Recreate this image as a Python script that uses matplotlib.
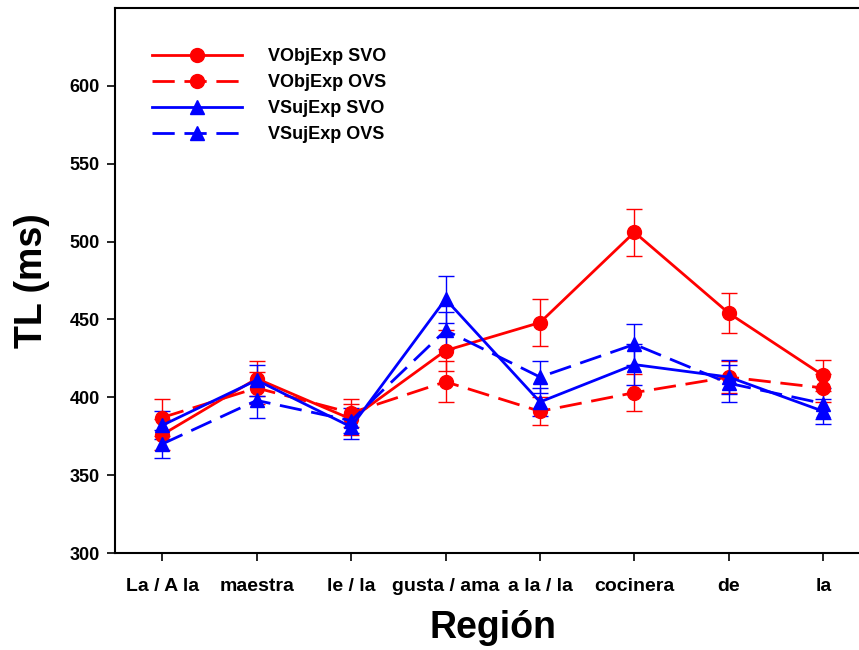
import matplotlib
matplotlib.use("Agg")
import matplotlib.pyplot as plt
import numpy as np

plt.rcParams['font.family'] = ['Liberation Sans', 'DejaVu Sans']
plt.rcParams['font.weight'] = 'bold'
plt.rcParams['lines.scale_dashes'] = False

regions = ['La / A la', 'maestra', 'le / la', 'gusta / ama', 'a la / la',
           'cocinera', 'de', 'la']

vobj_svo = [376, 412, 386, 430, 448, 506, 454, 414]
vobj_svo_err = [10, 11, 10, 13, 15, 15, 13, 10]
vobj_ovs = [387, 406, 390, 410, 391, 403, 413, 406]
vobj_ovs_err = [12, 10, 9, 13, 9, 12, 10, 9]
vsuj_svo = [382, 411, 381, 463, 397, 421, 413, 391]
vsuj_svo_err = [9, 10, 8, 15, 9, 13, 11, 8]
vsuj_ovs = [370, 398, 385, 443, 413, 434, 409, 396]
vsuj_ovs_err = [9, 11, 8, 12, 10, 13, 12, 10]

series = [
    ('VObjExp SVO', vobj_svo, vobj_svo_err, '#ff0000', 'o', '-'),
    ('VObjExp OVS', vobj_ovs, vobj_ovs_err, '#ff0000', 'o', '--'),
    ('VSujExp SVO', vsuj_svo, vsuj_svo_err, '#0000ff', '^', '-'),
    ('VSujExp OVS', vsuj_ovs, vsuj_ovs_err, '#0000ff', '^', '--'),
]

fig = plt.figure(figsize=(8.59, 6.5), dpi=100)
ax = fig.add_axes([0.1339, 0.1492, 0.8795, 0.8385])

x = np.arange(len(regions))
for label, vals, err, color, marker, ls in series:
    ax.errorbar(x, vals, yerr=err, fmt='none', ecolor=color, elinewidth=1.0,
                capsize=6, capthick=1.0, zorder=2)
    line, = ax.plot(x, vals, color=color, marker=marker, markersize=10,
                    linewidth=2.0, linestyle=ls, label=label, zorder=3)
    if ls == '--':
        line.set_dashes((16, 7))

ax.set_xlim(-0.5, 7.5)
ax.set_ylim(300, 650)
ax.set_yticks([300, 350, 400, 450, 500, 550, 600])
ax.set_xticks(x)
ax.set_xticklabels(regions, fontsize=14, fontweight='bold')
for t in ax.get_yticklabels():
    t.set_fontsize(13)
    t.set_fontweight('bold')
ax.tick_params(axis='both', direction='out', length=6, width=1.2, color='black')
ax.tick_params(axis='x', pad=12)
ax.tick_params(axis='y', pad=5)
for s in ax.spines.values():
    s.set_linewidth(1.5)

ax.set_xlabel('Región', fontsize=27, fontweight='bold', labelpad=11)
ax.set_ylabel('TL (ms)', fontsize=27, fontweight='bold', labelpad=14)

leg = ax.legend(loc='upper left', bbox_to_anchor=(0.049, 0.926), frameon=False,
                numpoints=1, handlelength=5.0, handletextpad=1.45,
                labelspacing=0.5, borderpad=0, borderaxespad=0,
                prop={'family': 'Liberation Sans', 'weight': 'bold', 'size': 13})

fig.savefig('out.png', dpi=100)
